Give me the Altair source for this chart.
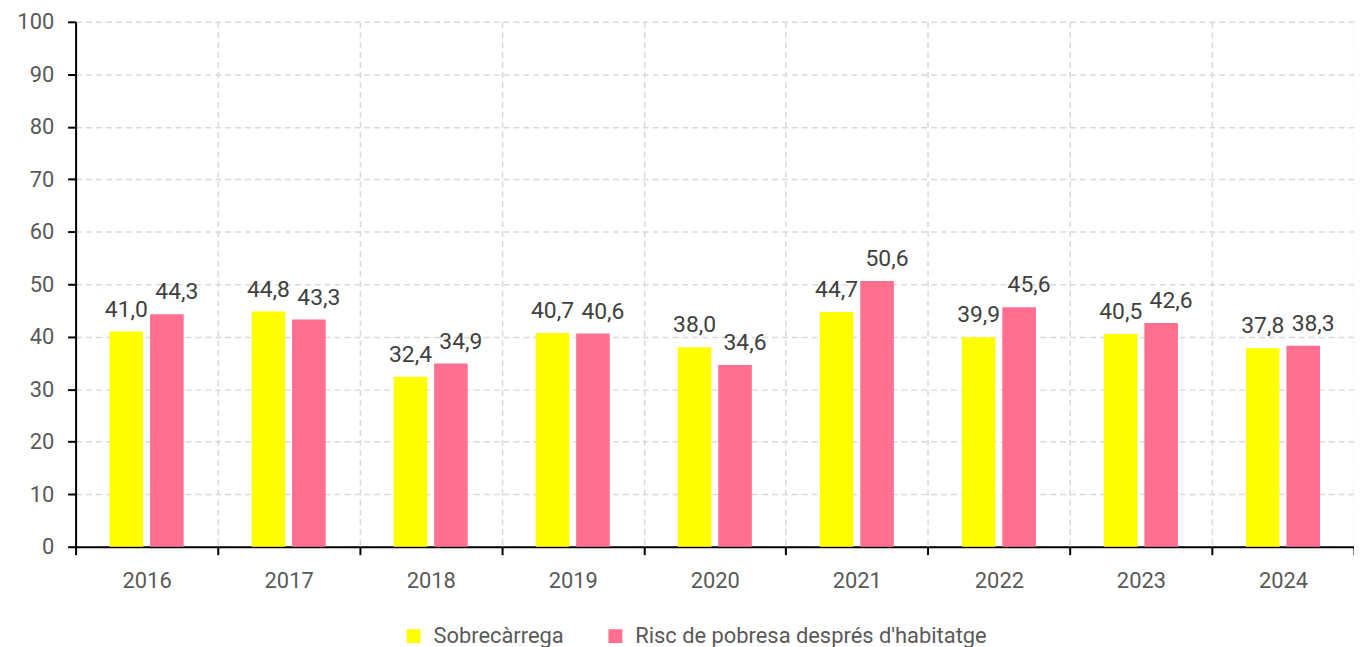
import altair as alt
import pandas as pd

years = ["2016", "2017", "2018", "2019", "2020", "2021", "2022", "2023", "2024"]
sobrecarrega = [41.0, 44.8, 32.4, 40.7, 38.0, 44.7, 39.9, 40.5, 37.8]
risc = [44.3, 43.3, 34.9, 40.6, 34.6, 50.6, 45.6, 42.6, 38.3]
series_names = ["Sobrecàrrega", "Risc de pobresa després d'habitatge"]
colors = ["#FFFF00", "#FF6F8F"]
y_ticks = [0, 10, 20, 30, 40, 50, 60, 70, 80, 90, 100]

rows = []
for i, yr in enumerate(years):
    rows.append({"year": yr, "series": series_names[0], "value": sobrecarrega[i]})
    rows.append({"year": yr, "series": series_names[1], "value": risc[i]})
df = pd.DataFrame(rows)

FONT = "Roboto"

x = alt.X(
    "year:N", title=None, sort=years,
    scale=alt.Scale(paddingInner=0, paddingOuter=0),
    axis=alt.Axis(labelAngle=0, tickBand="extent", grid=True, gridDash=[6, 4],
                  gridColor="#d9d9d9", gridWidth=1.5, domainColor="black", domainWidth=2,
                  tickColor="black", tickWidth=2, tickSize=8, labelFontSize=22,
                  labelColor="#595959", labelPadding=16, labelFont=FONT),
)
xo = alt.XOffset("series:N", sort=series_names,
                 scale=alt.Scale(domain=series_names, paddingInner=0.17, paddingOuter=0.84))
y = alt.Y(
    "value:Q", title=None,
    scale=alt.Scale(domain=[0, 100], nice=False),
    axis=alt.Axis(values=y_ticks, grid=True, gridDash=[6, 4], gridColor="#d9d9d9",
                  gridWidth=1.5, domainColor="black", domainWidth=2, tickColor="black",
                  tickWidth=2, tickSize=8, labelFontSize=22, labelColor="#595959",
                  labelPadding=14, labelFont=FONT),
)
color = alt.Color(
    "series:N", sort=series_names,
    scale=alt.Scale(domain=series_names, range=colors),
    legend=alt.Legend(orient="none", legendX=329, legendY=607, title=None,
                      direction="horizontal", symbolType="square", symbolSize=196,
                      symbolStrokeWidth=0, labelFontSize=22, labelColor="#595959",
                      labelFont=FONT, columnPadding=40, labelOffset=9, labelLimit=0,
                      padding=0),
)

label_expr = "replace(format(datum.value, '.1f'), '.', ',')"

bars = alt.Chart(df).mark_bar().encode(x=x, xOffset=xo, y=y, color=color)
text_a = (
    alt.Chart(df)
    .transform_filter(alt.datum.series == series_names[0])
    .transform_calculate(label=label_expr)
    .mark_text(baseline="alphabetic", dy=-15, fontSize=23, color="#404040", font=FONT)
    .encode(x=x, xOffset=xo, y=y, text="label:N")
)
text_b = (
    alt.Chart(df)
    .transform_filter(alt.datum.series == series_names[1])
    .transform_calculate(label=label_expr)
    .mark_text(baseline="alphabetic", dy=-15, dx=10, fontSize=23, color="#404040", font=FONT)
    .encode(x=x, xOffset=xo, y=y, text="label:N")
)

chart = (
    alt.layer(bars, text_a, text_b)
    .properties(width=1286, height=528,
                padding={"left": 68, "top": 12, "right": 0, "bottom": 99},
                autosize=alt.AutoSizeParams(type="none"))
    .configure_view(stroke=None)
)

chart.save("out.html", embed_options={"renderer": "svg", "actions": False})
